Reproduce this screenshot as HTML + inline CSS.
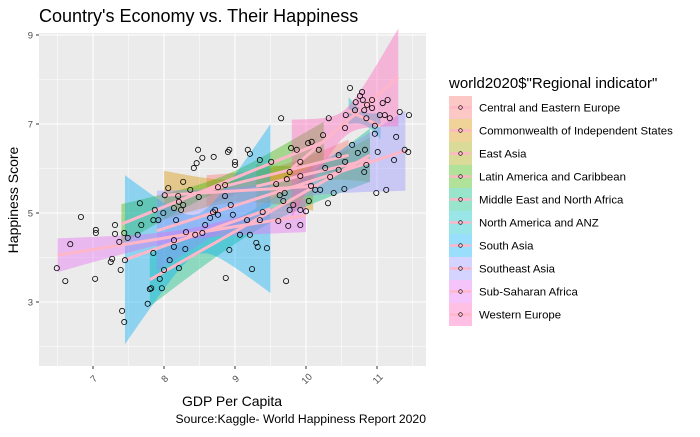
<!DOCTYPE html>
<html><head><meta charset="utf-8"><style>
body{margin:0;background:#fff;font-family:"Liberation Sans",sans-serif}
svg text{font-family:"Liberation Sans",sans-serif}
</style></head><body>
<svg id="chart" width="700" height="432" xmlns="http://www.w3.org/2000/svg">
<text x="39" y="22" font-size="18" fill="#000">Country's Economy vs. Their Happiness</text>
<rect x="39" y="33" width="387" height="333" fill="#ebebeb"/>
<g id="grid"></g><g id="ribbons"></g><g id="lines"></g><g id="points"></g><g id="axes"></g>
<text transform="translate(18,200) rotate(-90)" text-anchor="middle" font-size="14">Happiness Score</text>
<text x="232" y="406" text-anchor="middle" font-size="14">GDP Per Capita</text>
<text x="426" y="423" text-anchor="end" font-size="12.2">Source:Kaggle- World Happiness Report 2020</text>
<text x="449" y="88" font-size="15">world2020$"Regional indicator"</text>
<g id="legend"></g>
</svg>
<script>
const xTicks=[7,8,9,10,11];
const yTicks=[3,5,7,9];
const regions=["Central and Eastern Europe","Commonwealth of Independent States","East Asia","Latin America and Caribbean","Middle East and North Africa","North America and ANZ","South Asia","Southeast Asia","Sub-Saharan Africa","Western Europe"];
const colors=["#F8766D","#D89000","#A3A500","#39B600","#00BF7D","#00BFC4","#00B0F6","#9590FF","#E76BF3","#FF62BC"];
const fitX0=[8.6,8.0,9.3,7.4,7.8,10.6,7.45,7.9,6.5,9.8];
const fitX1=[10.6,10.1,10.9,10.25,10.9,11.05,9.5,11.4,10.0,11.3];
const fitY0=[5.5,5.4,5.6,4.75,3.5,7.3,3.95,4.6,4.05,6.0];
const fitY1=[6.3,5.6,6.2,6.6,6.3,6.95,5.1,6.4,4.95,8.05];
const fitHwEnd=[0.35,0.55,0.5,0.45,0.6,0.3,1.9,0.9,0.38,1.1];
const fitHwMid=[0.15,0.25,0.2,0.15,0.25,0.15,0.45,0.25,0.12,0.3];
const pxPts=[[57,268],[65,281],[70,244],[81,217],[96,233],[96,230],[95,279],[115,225],[115,234],[111,262],[119,242],[122,311],[124,322],[121,270],[125,260],[128,238],[138,235],[141,225],[151,288],[153,253],[153,220],[148,304],[158,220],[150,289],[162,288],[160,279],[165,195],[163,213],[164,270],[170,260],[174,208],[174,240],[179,202],[181,210],[186,232],[179,268],[178,196],[194,168],[190,190],[197,163],[199,197],[198,150],[202,158],[214,157],[218,215],[225,196],[228,152],[229,150],[235,162],[235,165],[229,250],[226,278],[250,154],[248,150],[260,160],[263,212],[271,162],[281,118],[283,201],[287,179],[291,148],[286,281],[297,150],[300,162],[308,143],[312,142],[319,150],[323,135],[329,118],[339,155],[350,88],[356,102],[360,96],[362,92],[363,100],[364,110],[366,118],[372,100],[375,126],[383,103],[390,118],[396,137],[400,112],[405,150],[409,115],[386,190],[394,160],[378,152],[375,134],[344,189],[330,177],[339,170],[320,190],[306,211],[293,205],[285,193],[290,172],[276,184],[280,195],[300,176],[260,220],[250,235],[240,235],[247,220],[258,247],[267,248],[231,205],[205,225],[202,233],[213,212],[195,235],[185,249],[183,205],[176,220],[290,210],[309,201],[311,186],[325,168],[345,162],[358,153],[365,150],[380,115],[385,115],[372,108],[367,105],[355,110],[388,100],[408,152],[352,145],[364,172],[376,193],[366,165],[334,193],[328,203],[345,128],[346,115],[315,190],[300,225],[288,226],[300,210],[278,221],[252,269],[256,243],[233,215],[215,210],[210,218],[225,185],[218,187],[174,247],[183,182],[168,188],[155,210],[140,203],[124,233],[112,259]];
const gdp=pxPts.map(p=>+(7+(p[0]-93)/71).toFixed(2));
const score=pxPts.map(p=>+(7-(p[1]-124)/44.5).toFixed(2));
const NS="http://www.w3.org/2000/svg";
const X=v=>93+(v-7)*71, Y=v=>124-(v-7)*44.5;
function mk(tag,attrs,parent){const e=document.createElementNS(NS,tag);for(const k in attrs)e.setAttribute(k,attrs[k]);document.getElementById(parent).appendChild(e);return e;}
for(let v=6.5;v<=11.5;v+=0.5){const major=Number.isInteger(v);const g=mk('line',{x1:X(v),x2:X(v),y1:33,y2:366,stroke:'#fff','stroke-width':major?1.1:0.5},'grid');

}
for(let v=2;v<=9;v+=1){const major=v%2==1;const g=mk('line',{x1:39,x2:426,y1:Y(v),y2:Y(v),stroke:'#fff','stroke-width':major?1.1:0.5},'grid');

}
regions.forEach((r,i)=>{const x0=fitX0[i],x1=fitX1[i],xm=(x0+x1)/2,h=(x1-x0)/2;
const a=fitHwMid[i]**2,b=(fitHwEnd[i]**2-a)/(h*h);const top=[],bot=[];
for(let k=0;k<=30;k++){const x=x0+(x1-x0)*k/30;const yc=fitY0[i]+(fitY1[i]-fitY0[i])*k/30;const hw=Math.sqrt(a+b*(x-xm)**2);top.push(X(x)+','+Y(yc+hw));bot.unshift(X(x)+','+Y(yc-hw));}
const p=mk('polygon',{points:top.concat(bot).join(' '),fill:colors[i],'fill-opacity':0.4},'ribbons');


const l=mk('line',{x1:X(x0),y1:Y(fitY0[i]),x2:X(x1),y2:Y(fitY1[i]),stroke:'#ffb6c8','stroke-width':3},'lines');

});
gdp.forEach((g,i)=>{const c=mk('circle',{cx:X(g),cy:Y(score[i]),r:2.6,fill:'none',stroke:'#000','stroke-width':0.8},'points');

});
xTicks.forEach(v=>{const t=mk('line',{x1:X(v),x2:X(v),y1:366,y2:369,stroke:'#333'},'axes');


const l=mk('text',{transform:`translate(${X(v)+3},${381}) rotate(-45)`,'text-anchor':'middle','font-size':9.5,fill:'#4d4d4d'},'axes');l.textContent=v;

});
yTicks.forEach(v=>{const t=mk('line',{x1:36,x2:39,y1:Y(v),y2:Y(v),stroke:'#333'},'axes');


const l=mk('text',{x:33,y:Y(v)+3.5,'text-anchor':'end','font-size':9.5,fill:'#4d4d4d'},'axes');l.textContent=v;

});
regions.forEach((r,i)=>{const y=96+i*23;
const b=mk('rect',{x:449,y:y,width:23,height:23,fill:colors[i],'fill-opacity':0.4},'legend');


const l=mk('line',{x1:450,x2:471,y1:y+11.5,y2:y+11.5,stroke:'#ffb6c8','stroke-width':2.5},'legend');


const c=mk('circle',{cx:460.5,cy:y+11.5,r:1.8,fill:'none',stroke:'#000','stroke-width':0.6},'legend');


const t=mk('text',{x:479,y:y+15.5,'font-size':11.4},'legend');t.textContent=r;

});
</script>
</body></html>
